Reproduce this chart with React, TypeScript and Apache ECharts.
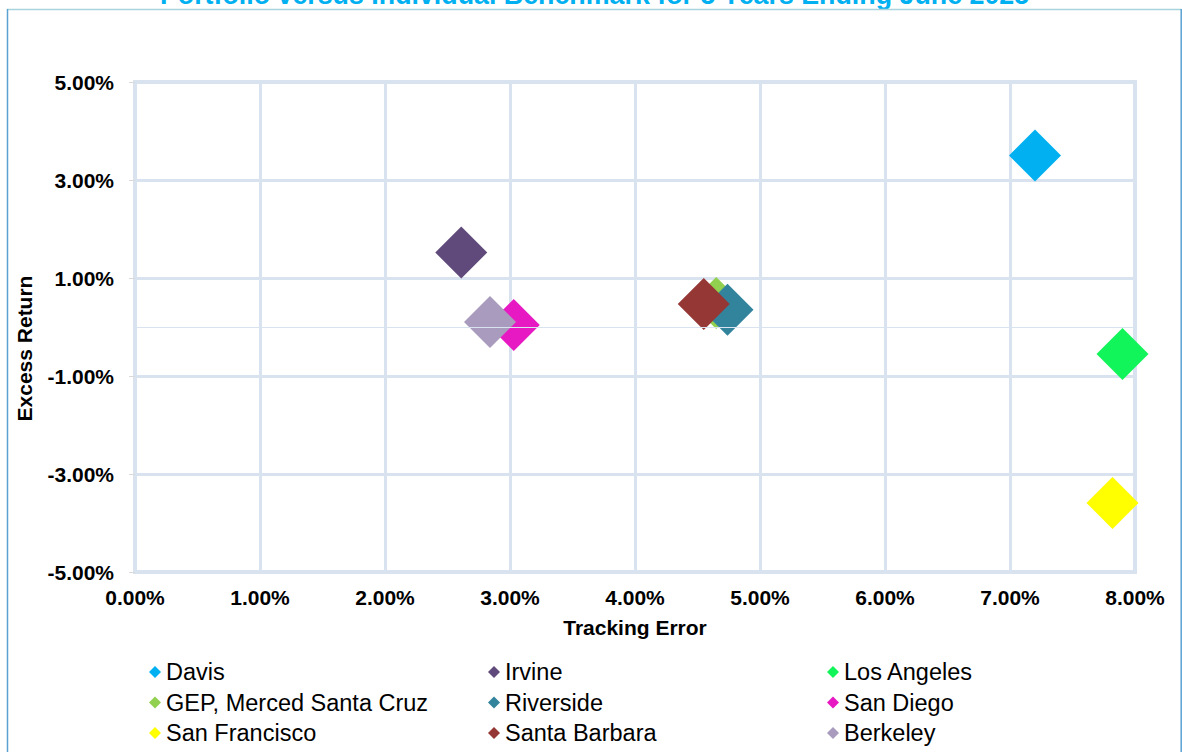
import React, { useEffect, useRef } from "react";
import * as echarts from "echarts";

// Tracking error (x) and excess return (y), both in percent, per campus portfolio
const campuses = [
  "Davis",
  "Irvine",
  "Los Angeles",
  "GEP, Merced Santa Cruz",
  "Riverside",
  "San Diego",
  "San Francisco",
  "Santa Barbara",
  "Berkeley",
];
const trackingError = [7.2, 2.61, 7.9, 4.65, 4.74, 3.03, 7.82, 4.55, 2.84];
const excessReturn = [3.5, 1.52, -0.55, 0.49, 0.35, 0.04, -3.59, 0.47, 0.1];
const campusColors = [
  "#00b0f0",
  "#604a7b",
  "#12f55a",
  "#92d050",
  "#31849b",
  "#e619c3",
  "#ffff00",
  "#953735",
  "#a99bbd",
];

// Legend columns, read row by row across three columns
const legendColumns = [
  ["Davis", "GEP, Merced Santa Cruz", "San Francisco"],
  ["Irvine", "Riverside", "Santa Barbara"],
  ["Los Angeles", "San Diego", "Berkeley"],
];
const legendLefts = [149, 488, 827];

const xRange = { min: 0, max: 8, interval: 1 };
const yRange = { min: -5, max: 5, interval: 2 };

const titleText = "Portfolio versus Individual Benchmark for 5 Years Ending June 2025";

const FONT = '"Liberation Sans", Arial, Helvetica, sans-serif';
const GRID_COLOR = "#d9e3f0";

const pct = (v: number) => v.toFixed(2) + "%";

export default function App() {
  const ref = useRef<HTMLDivElement>(null);

  useEffect(() => {
    if (!ref.current) return;
    const chart = echarts.init(ref.current, undefined, { renderer: "svg" });

    const series: any[] = campuses.map((name, i) => ({
      name,
      type: "scatter",
      symbol: "diamond",
      symbolSize: 52,
      itemStyle: { color: campusColors[i], opacity: 1 },
      data: [[trackingError[i], excessReturn[i]]],
      z: 3,
    }));

    // Zero line for the excess-return axis, kept below the markers
    series.unshift({
      name: "zero",
      type: "scatter",
      data: [],
      z: 1,
      silent: true,
      markLine: {
        silent: true,
        symbol: "none",
        label: { show: false },
        lineStyle: { color: GRID_COLOR, width: 1.2, type: "solid" },
        data: [{ yAxis: 0 }],
      },
    });

    chart.setOption({
      animation: false,
      backgroundColor: "#ffffff",
      textStyle: { fontFamily: FONT },
      grid: {
        left: 135,
        right: 47,
        top: 82,
        bottom: 180,
        show: true,
        borderColor: GRID_COLOR,
        borderWidth: 4,
      },
      xAxis: {
        type: "value",
        min: xRange.min,
        max: xRange.max,
        interval: xRange.interval,
        name: "Tracking Error",
        nameLocation: "middle",
        nameGap: 45,
        nameTextStyle: { fontFamily: FONT, fontSize: 21, fontWeight: "bold", color: "#000" },
        axisLine: { show: false },
        axisTick: { show: false },
        splitLine: { show: true, lineStyle: { color: GRID_COLOR, width: 3 } },
        axisLabel: {
          formatter: pct,
          margin: 15,
          fontFamily: FONT,
          fontSize: 21,
          fontWeight: "bold",
          color: "#000",
        },
      },
      yAxis: {
        type: "value",
        min: yRange.min,
        max: yRange.max,
        interval: yRange.interval,
        name: "Excess Return",
        nameLocation: "middle",
        nameGap: 100,
        nameTextStyle: {
          fontFamily: FONT,
          fontSize: 21,
          fontWeight: "bold",
          color: "#000",
          padding: [0, 43, 0, 0],
        },
        axisLine: { show: false },
        axisTick: { show: true, inside: false, length: 6, lineStyle: { color: "#d9d9d9", width: 1 } },
        splitLine: { show: true, lineStyle: { color: GRID_COLOR, width: 3 } },
        axisLabel: {
          formatter: pct,
          margin: 21,
          fontFamily: FONT,
          fontSize: 21,
          fontWeight: "bold",
          color: "#000",
        },
      },
      legend: legendColumns.map((col, i) => ({
        data: col,
        orient: "vertical",
        left: legendLefts[i],
        top: 660,
        width: 330,
        height: 140,
        padding: 0,
        itemGap: 6.5,
        itemWidth: 12,
        itemHeight: 12,
        icon: "diamond",
        selectedMode: false,
        textStyle: { fontFamily: FONT, fontSize: 23.5, color: "#000" },
      })),
      graphic: [
        {
          type: "text",
          silent: true,
          style: {
            text: titleText,
            x: 594.5,
            y: -5,
            textAlign: "center",
            textVerticalAlign: "middle",
            font: `bold 26.8px ${FONT}`,
            fill: "#00b0f0",
          },
        },
        {
          type: "line",
          silent: true,
          shape: { x1: 7, y1: 9.5, x2: 1181.5, y2: 9.5 },
          style: { stroke: "#a9d3dd", lineWidth: 1.5 },
        },
        {
          type: "line",
          silent: true,
          shape: { x1: 7.5, y1: 9, x2: 7.5, y2: 752 },
          style: { stroke: "#5aa2d2", lineWidth: 1.5 },
        },
        {
          type: "line",
          silent: true,
          shape: { x1: 1181.2, y1: 9, x2: 1181.2, y2: 752 },
          style: { stroke: "#5aa2d2", lineWidth: 1.5 },
        },
      ],
      series,
    });

    return () => chart.dispose();
  }, []);

  return (
    <div
      ref={ref}
      style={{ position: "absolute", left: 0, top: 0, width: 1182, height: 752 }}
    />
  );
}
